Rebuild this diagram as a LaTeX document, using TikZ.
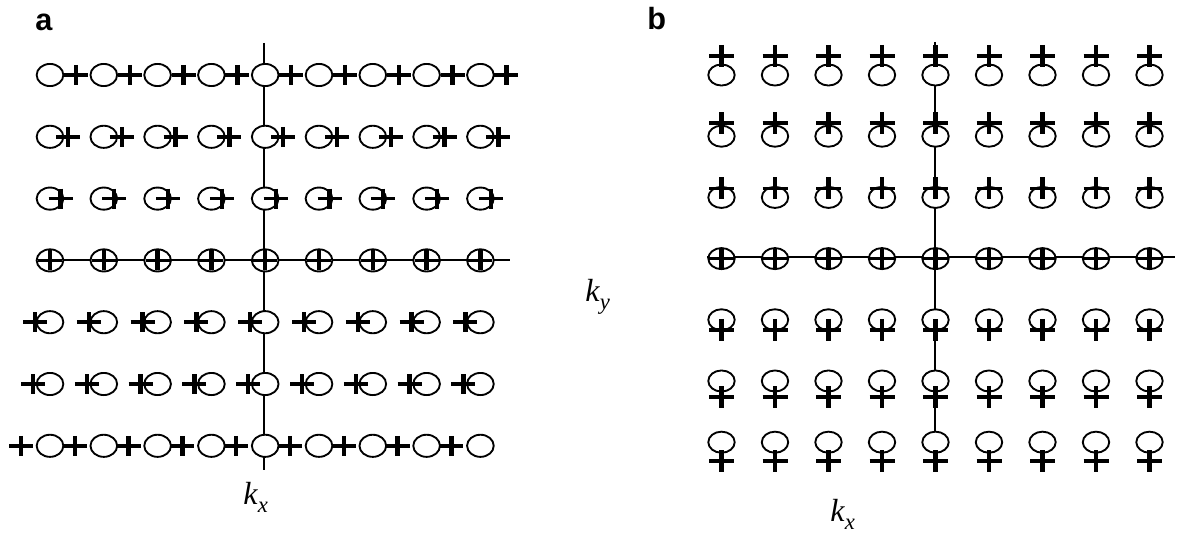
\documentclass[tikz,border=0pt]{standalone}
\usepackage{fontspec}
\setmainfont{Liberation Serif}
\newfontfamily\panelfont{Liberation Sans}
\newcommand{\kvar}[1]{\textit{k}\raisebox{-0.25em}{\fontsize{17}{17}\selectfont\textit{#1}}}
\begin{document}
\begin{tikzpicture}[x=0.75pt,y=-0.75pt,
  axis/.style={line width=1.4pt},
  orb/.style={line width=1.4pt, fill=white},
  hbar/.style={line width=2.6pt},
  vbar/.style={line width=3.2pt},
  paneltag/.style={font=\panelfont\bfseries\fontsize{23}{27}\selectfont, anchor=base west, inner sep=0pt},
  klabel/.style={font=\fontsize{24}{28}\selectfont, anchor=base west, inner sep=0pt}]
\useasboundingbox (0,0) rectangle (1184,535);

% ---- panel a: ellipses with the cross sliding horizontally ----
\coordinate (aN) at (264,43);
\coordinate (aS) at (264,470);
\coordinate (aW) at (37,260);
\coordinate (aE) at (510,260);
\draw[axis] (aN) -- (aS);
\draw[axis] (aW) -- (aE);
\foreach \r/\dx in {0/26,1/18,2/10.5,3/0,4/-15,5/-17,6/-29}{
  \foreach \c in {0,...,8}{
    \pgfmathsetmacro\px{50+53.8*\c}
    \pgfmathsetmacro\py{75+61.8*\r}
    \pgfmathsetmacro\qx{\px+\dx}
    \draw[orb] (\px,\py) ellipse [x radius=10pt, y radius=8.3pt];
    \draw[hbar] (\qx-12,\py) -- (\qx+12,\py);
    \draw[vbar] (\qx,\py-10) -- (\qx,\py+10);
  }
}

% ---- panel b: ellipses with the cross sliding vertically ----
\coordinate (bN) at (935,42);
\coordinate (bS) at (935,460);
\coordinate (bW) at (707,257);
\coordinate (bE) at (1175,257);
\draw[axis] (bN) -- (bS);
\draw[axis] (bW) -- (bE);
\foreach \r/\dy in {0/-19,1/-13,2/-9,3/0,4/10,5/16,6/19}{
  \foreach \c in {0,...,8}{
    \pgfmathsetmacro\px{721.5+53.5*\c}
    \pgfmathsetmacro\py{75+61.2*\r}
    \pgfmathsetmacro\qy{\py+\dy}
    \draw[orb] (\px,\py) ellipse [x radius=9.9pt, y radius=7.9pt];
    \draw[hbar] (\px-12.5,\qy) -- (\px+12.5,\qy);
    \draw[vbar] (\px,\qy-11) -- (\px,\qy+11);
  }
}

% ---- labels ----
\node[paneltag] (tagA) at (35,31) {a};
\node[paneltag] (tagB) at (647,30) {b};
\node[klabel] (kxA) at (243,504) {\kvar{x}};
\node[klabel] (ky) at (585,301) {\kvar{y}};
\node[klabel] (kxB) at (830,521) {\kvar{x}};
\end{tikzpicture}
\end{document}
